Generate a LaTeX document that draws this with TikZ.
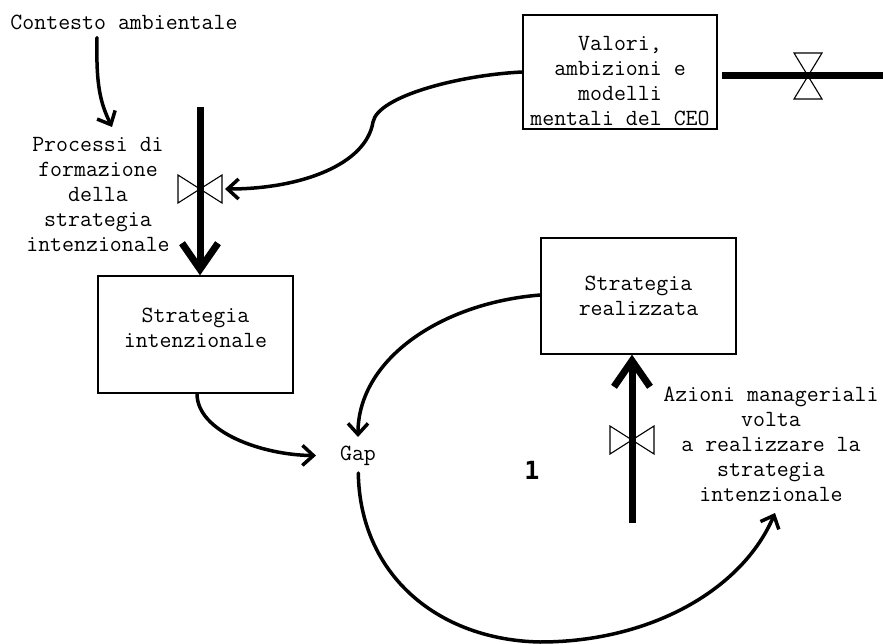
\documentclass[tikz,border=0pt]{standalone}
\usepackage{fontspec}
\newfontfamily\numfont{DejaVu Sans Mono}
\usetikzlibrary{arrows.meta,calc}

\tikzset{
  lbl/.style={font=\ttfamily\fontsize{23.2pt}{25pt}\selectfont, align=center, inner sep=0pt},
  stock/.style={lbl, draw, line width=1.3pt},
  link/.style={line width=3.5pt, line cap=round, -{Straight Barb[length=11pt,width=20pt]}},
  flow/.style={line width=7pt},
  flowhead/.style={flow, -{Straight Barb[length=26pt,width=36pt]}},
  valveshape/.style={draw, fill=white, line width=1.1pt, line join=miter},
}

% horizontal bow-tie valve on a vertical pipe
\newcommand{\hvalve}[1]{%
  \draw[valveshape] ($(#1)+(-22,-14)$) -- ($(#1)+(-22,14)$) -- (#1) -- cycle;
  \draw[valveshape] ($(#1)+(22,-14)$) -- ($(#1)+(22,14)$) -- (#1) -- cycle;}
% vertical bow-tie valve on a horizontal pipe
\newcommand{\vvalve}[1]{%
  \draw[valveshape] ($(#1)+(-14,-23)$) -- ($(#1)+(14,-23)$) -- (#1) -- cycle;
  \draw[valveshape] ($(#1)+(-14,23)$) -- ($(#1)+(14,23)$) -- (#1) -- cycle;}

\begin{document}
\begin{tikzpicture}[x=1pt, y=-1pt]
  \useasboundingbox (0,0) rectangle (883,644);

  % text labels
  \node[lbl] (ctx) at (124,22) {Contesto ambientale};
  \node[lbl] (proc) at (98,194) {Processi di\\formazione\\della\\strategia\\intenzionale};
  \node[lbl] (az) at (771,444) {Azioni manageriali\\volta\\a realizzare la\\strategia\\intenzionale};
  \node[lbl] (gap) at (358,456) {Gap};
  \node[inner sep=0pt, font=\numfont\bfseries\fontsize{25pt}{25pt}\selectfont] (one) at (532,470) {1};

  % stocks
  \node[stock, minimum width=194pt, minimum height=114pt, text height=107pt] (valori) at (620,72)
       {Valori,\\ambizioni e\\modelli\\mentali del CEO};
  \node[stock, minimum width=195pt, minimum height=117pt, text depth=14pt] (si) at (195.5,334.5)
       {Strategia\\intenzionale};
  \node[stock, minimum width=195pt, minimum height=116pt] (sr) at (638.5,296)
       {Strategia\\realizzata};

  % valve positions and pipe ends
  \coordinate (v1) at (200,189);
  \coordinate (v2) at (808,76);
  \coordinate (v3) at (632,440);
  \coordinate (f1s) at (200,107);
  \coordinate (f2s) at (722,76);
  \coordinate (f2e) at (883,76);
  \coordinate (f3s) at (632,523);

  % valves, then pipes through them
  \hvalve{v1}
  \hvalve{v3}
  \vvalve{v2}
  \draw[flowhead] (f1s) -- (si.north -| f1s);
  \draw[flow] (f2s) -- (f2e);
  \draw[flowhead] (f3s) -- (sr.south -| f3s);

  % information links
  \draw[link] (ctx.south -| 97,0) ++(0,8) .. controls (96,85) and (100,102) .. (112,127);
  \draw[link] (valori.west) .. controls (460,75) and (378,96) .. (373,122)
        .. controls (366,165) and (300,189) .. ($(v1)+(25,0)$);
  \draw[link, shorten >=42pt] (si.south -| 197,0) .. controls (197,432) and (262,455) .. (gap.center);
  \draw[link, shorten >=19pt] (sr.west |- 0,295) .. controls (440,303) and (358,360) .. (gap.center);
  \draw[link, shorten <=17pt] (gap.center) .. controls (360,575) and (438,640) .. (540,642)
        .. controls (650,642) and (742,590) .. (775,513);
\end{tikzpicture}
\end{document}
